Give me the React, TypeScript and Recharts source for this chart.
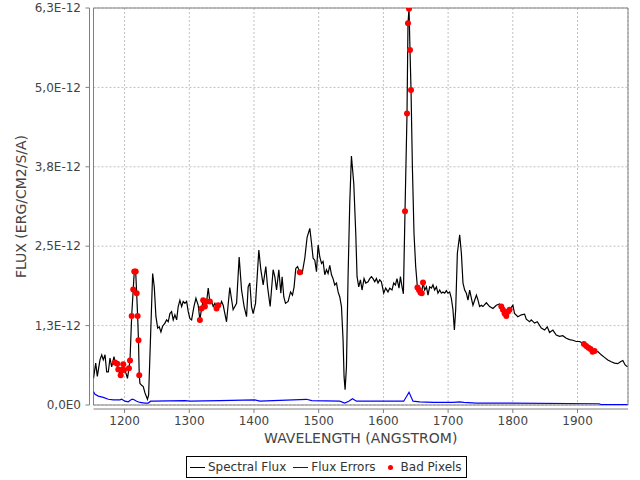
import React from "react";
import {
  ComposedChart,
  Line,
  XAxis,
  YAxis,
  CartesianGrid,
  ReferenceArea,
  Label,
} from "recharts";

// wavelengths in angstrom, flux in units of 1e-12 erg/cm2/s/A
const WAVELENGTH = [
  1152.0, 1155.4, 1157.9, 1162.0, 1164.7, 1167.1, 1169.8, 1172.4, 1174.9, 1177.5,
  1180.1, 1183.7, 1185.2, 1188.7, 1190.3, 1194.0, 1195.5, 1198.0, 1199.1, 1202.2,
  1204.5, 1206.8, 1208.4, 1211.0, 1213.4, 1215.0, 1217.2, 1218.7, 1220.2, 1221.5,
  1222.7, 1223.8, 1226.4, 1228.9, 1231.5, 1235.4, 1237.2, 1240.0, 1243.4, 1245.9,
  1248.5, 1251.2, 1253.6, 1256.2, 1258.8, 1262.4, 1265.0, 1267.5, 1270.1, 1272.7,
  1275.2, 1277.8, 1280.5, 1282.9, 1285.5, 1288.2, 1290.6, 1293.3, 1295.9, 1298.4,
  1301.0, 1303.6, 1307.2, 1310.3, 1313.8, 1316.4, 1319.0, 1321.5, 1324.1, 1326.8,
  1329.3, 1331.8, 1334.5, 1337.0, 1339.6, 1342.2, 1344.7, 1347.3, 1349.9, 1352.4,
  1357.6, 1362.6, 1367.8, 1373.1, 1377.1, 1380.8, 1384.8, 1388.5, 1391.0, 1393.6,
  1396.2, 1398.7, 1402.4, 1407.5, 1410.6, 1414.2, 1418.3, 1421.0, 1425.0, 1429.6,
  1432.2, 1434.9, 1438.4, 1441.5, 1443.5, 1446.1, 1448.7, 1452.8, 1456.5, 1459.5,
  1462.0, 1464.6, 1467.3, 1470.8, 1474.4, 1478.5, 1482.1, 1486.3, 1488.9, 1491.4,
  1494.0, 1496.6, 1499.1, 1501.7, 1504.4, 1506.8, 1509.4, 1512.0, 1514.5, 1517.1,
  1519.8, 1522.2, 1524.8, 1527.5, 1530.0, 1532.6, 1535.2, 1537.7, 1539.2, 1540.8,
  1542.9, 1545.4, 1548.0, 1550.6, 1554.2, 1557.3, 1559.3, 1561.9, 1564.5, 1567.0,
  1570.1, 1572.7, 1576.3, 1578.9, 1581.5, 1584.0, 1586.6, 1589.2, 1591.7, 1594.3,
  1596.9, 1600.5, 1603.5, 1607.1, 1609.8, 1613.3, 1615.9, 1618.6, 1621.0, 1624.1,
  1626.3, 1628.8, 1630.9, 1633.4, 1636.5, 1638.0, 1639.6, 1641.1, 1642.7, 1644.8,
  1647.3, 1649.9, 1652.6, 1655.0, 1657.2, 1659.2, 1661.2, 1663.8, 1666.5, 1668.9,
  1671.5, 1674.2, 1676.6, 1679.2, 1681.9, 1684.3, 1687.0, 1689.6, 1692.1, 1694.7,
  1697.3, 1699.8, 1702.4, 1705.0, 1707.5, 1709.7, 1711.7, 1714.3, 1717.9, 1720.5,
  1723.0, 1725.6, 1728.2, 1730.7, 1733.3, 1736.0, 1738.4, 1741.0, 1743.7, 1746.2,
  1748.7, 1751.4, 1753.8, 1759.1, 1764.2, 1769.3, 1774.5, 1779.6, 1782.2, 1784.7,
  1787.3, 1789.9, 1792.4, 1795.0, 1800.1, 1802.7, 1807.8, 1813.1, 1818.2, 1820.8,
  1825.9, 1828.5, 1833.6, 1837.8, 1844.0, 1849.1, 1853.2, 1856.8, 1861.9, 1867.1,
  1872.2, 1877.3, 1882.6, 1887.7, 1892.8, 1898.0, 1903.1, 1909.8, 1913.4, 1917.0,
  1920.1, 1923.2, 1926.3, 1931.4, 1936.6, 1941.7, 1946.8, 1952.1, 1957.2, 1962.2,
  1966.4, 1970.0, 1973.6, 1977.2,
];

const FLUX = [
  0.42, 0.66, 0.45, 0.71, 0.79, 0.71, 0.79, 0.52, 0.52, 0.74,
  0.60, 0.76, 0.67, 0.65, 0.56, 0.47, 0.55, 0.64, 0.55, 0.50,
  0.42, 0.58, 0.70, 1.40, 1.82, 2.10, 2.10, 1.76, 1.40, 1.02,
  0.47, 0.34, 0.31, 0.29, 0.19, 0.09, 0.16, 1.02, 2.07, 1.86,
  1.39, 1.21, 1.23, 1.15, 1.24, 1.29, 1.34, 1.31, 1.44, 1.47,
  1.34, 1.42, 1.34, 1.55, 1.65, 1.55, 1.63, 1.60, 1.63, 1.47,
  1.36, 1.34, 1.55, 1.68, 1.57, 1.34, 1.52, 1.65, 1.55, 1.63,
  1.84, 1.63, 1.63, 1.55, 1.60, 1.52, 1.57, 1.55, 1.63, 1.57,
  1.31, 1.85, 1.50, 1.60, 2.33, 1.81, 1.55, 1.39, 1.86, 1.92,
  1.55, 1.44, 1.60, 2.44, 2.13, 1.89, 2.18, 1.86, 1.55, 2.13,
  2.02, 1.81, 2.13, 1.76, 2.02, 1.70, 1.60, 1.63, 1.78, 1.73,
  1.86, 2.15, 2.18, 2.09, 2.07, 2.31, 2.64, 2.78, 2.55, 2.31,
  2.28, 2.10, 2.52, 2.33, 2.23, 2.26, 2.05, 2.13, 2.07, 2.20,
  2.05, 1.99, 1.89, 1.92, 1.78, 1.70, 1.55, 1.02, 0.45, 0.24,
  0.60, 2.02, 3.18, 3.92, 3.49, 2.70, 2.02, 1.86, 1.97, 1.81,
  1.99, 1.92, 1.94, 1.99, 2.02, 1.99, 1.94, 1.99, 1.92, 1.97,
  1.94, 1.76, 1.84, 1.78, 1.84, 1.81, 1.92, 1.89, 1.99, 1.84,
  2.02, 1.86, 1.75, 3.05, 4.59, 6.01, 6.24, 5.59, 4.96, 3.75,
  2.70, 2.18, 1.85, 1.81, 1.77, 1.76, 1.93, 1.81, 1.86, 1.73,
  1.86, 1.84, 1.89, 1.81, 1.86, 1.76, 1.81, 1.76, 1.78, 1.76,
  1.80, 1.76, 1.78, 1.68, 1.50, 1.18, 1.50, 2.39, 2.68, 2.39,
  1.92, 1.81, 1.76, 1.65, 1.81, 1.68, 1.57, 1.65, 1.73, 1.65,
  1.55, 1.57, 1.55, 1.61, 1.55, 1.52, 1.57, 1.59, 1.55, 1.50,
  1.44, 1.40, 1.47, 1.50, 1.57, 1.44, 1.39, 1.42, 1.43, 1.35,
  1.31, 1.34, 1.29, 1.31, 1.21, 1.18, 1.23, 1.14, 1.18, 1.10,
  1.08, 1.09, 1.05, 1.03, 1.02, 1.00, 1.00, 0.96, 0.93, 0.90,
  0.88, 0.84, 0.85, 0.84, 0.79, 0.75, 0.71, 0.68, 0.66, 0.65,
  0.68, 0.70, 0.63, 0.60,
];

const ERR_WAVELENGTH = [
  1152.0, 1154.3, 1159.4, 1167.1, 1174.9, 1182.6, 1192.9, 1195.5, 1200.6, 1205.7,
  1211.0, 1213.4, 1218.7, 1223.8, 1231.5, 1236.6, 1240.3, 1244.3, 1293.3, 1301.0,
  1347.3, 1401.3, 1409.1, 1481.2, 1489.3, 1532.6, 1540.2, 1546.5, 1552.2, 1558.4,
  1631.4, 1639.6, 1645.7, 1656.1, 1676.6, 1707.5, 1717.9, 1724.1, 1743.7, 1787.3,
  1795.0, 1933.8, 1936.6, 1977.2,
];

const ERR_FLUX = [
  0.21, 0.17, 0.14, 0.12, 0.09, 0.08, 0.08, 0.09, 0.06, 0.05,
  0.09, 0.09, 0.06, 0.04, 0.03, 0.03, 0.06, 0.06, 0.07, 0.06,
  0.07, 0.08, 0.06, 0.09, 0.07, 0.06, 0.03, 0.06, 0.10, 0.06,
  0.06, 0.20, 0.06, 0.05, 0.04, 0.04, 0.05, 0.04, 0.03, 0.03,
  0.03, 0.02, 0.005, 0.005,
];

const BAD_WAVELENGTH = [
  1185.2, 1188.7, 1190.3, 1194.0, 1195.5, 1198.0, 1199.1, 1206.8, 1208.4, 1211.0,
  1213.4, 1215.0, 1217.2, 1218.7, 1220.2, 1221.5, 1222.7, 1316.4, 1319.0, 1321.5,
  1324.1, 1326.8, 1331.8, 1342.2, 1344.7, 1470.8, 1633.4, 1636.5, 1638.0, 1639.6,
  1641.1, 1642.7, 1652.6, 1655.0, 1657.2, 1659.2, 1661.2, 1782.2, 1784.7, 1787.3,
  1789.9, 1792.4, 1795.0, 1909.8, 1913.4, 1917.0, 1920.1, 1923.2, 1926.3,
];

const BAD_FLUX = [
  0.67, 0.65, 0.56, 0.47, 0.55, 0.64, 0.55, 0.58, 0.70, 1.40,
  1.82, 2.10, 2.10, 1.76, 1.40, 1.02, 0.47, 1.34, 1.52, 1.65,
  1.55, 1.63, 1.63, 1.52, 1.57, 2.09, 3.05, 4.59, 6.01, 6.24,
  5.59, 4.96, 1.85, 1.81, 1.77, 1.76, 1.93, 1.55, 1.50, 1.44,
  1.40, 1.47, 1.50, 0.96, 0.93, 0.90, 0.88, 0.84, 0.85,
];

const X_TICKS = [1200, 1300, 1400, 1500, 1600, 1700, 1800, 1900];
const Y_TICKS = [0, 1.25, 2.5, 3.75, 5, 6.25];

const fluxData = WAVELENGTH.map((wl, i) => ({ wl, flux: FLUX[i] }));
const errData = ERR_WAVELENGTH.map((wl, i) => ({ wl, flux: ERR_FLUX[i] }));
const badData = BAD_WAVELENGTH.map((wl, i) => ({ wl, flux: BAD_FLUX[i] }));

const FONT = "'DejaVu Sans', sans-serif";
const AXIS_GRAY = "#808080";
const TEXT_GRAY = "#444444";

function formatFlux(v: number): string {
  if (v === 0) return "0,0E0";
  return `${v.toFixed(1).replace(".", ",")}E-12`;
}

function YTitle(props: any) {
  const vb = props.viewBox;
  const x = vb.x + 21;
  const y = vb.y + vb.height / 2;
  return (
    <text
      x={x}
      y={y}
      transform={`rotate(-90, ${x}, ${y})`}
      textAnchor="middle"
      dominantBaseline="central"
      fontSize={14}
      fill={TEXT_GRAY}
    >
      FLUX (ERG/CM2/S/A)
    </text>
  );
}

function XTitle(props: any) {
  const vb = props.viewBox;
  return (
    <text
      x={vb.x + vb.width / 2}
      y={vb.y + 33}
      textAnchor="middle"
      dominantBaseline="central"
      fontSize={14}
      fill={TEXT_GRAY}
    >
      WAVELENGTH (ANGSTROM)
    </text>
  );
}

function LegendBox() {
  const item = { display: "flex", alignItems: "center" } as const;
  return (
    <div
      style={{
        position: "absolute",
        left: 186,
        top: 456,
        height: 20,
        border: "1px solid #000",
        background: "#fff",
        display: "flex",
        alignItems: "center",
        padding: "0 4px 0 3px",
        fontSize: 12,
        color: "#333",
        whiteSpace: "nowrap",
      }}
    >
      <div style={item}>
        <span style={{ width: 15, height: 1, background: "#000", marginRight: 3 }} />
        Spectral Flux
      </div>
      <div style={{ ...item, marginLeft: 7 }}>
        <span style={{ width: 15, height: 1, background: "#0000ff", marginRight: 3 }} />
        Flux Errors
      </div>
      <div style={{ ...item, marginLeft: 12 }}>
        <span
          style={{
            width: 5,
            height: 5,
            borderRadius: "50%",
            background: "#ff0000",
            marginRight: 8,
          }}
        />
        Bad Pixels
      </div>
    </div>
  );
}

export default function App() {
  return (
    <div
      style={{
        position: "absolute",
        left: 0,
        top: 0,
        width: 640,
        height: 480,
        background: "#fff",
        fontFamily: FONT,
      }}
    >
      <ComposedChart width={640} height={480} margin={{ top: 8, right: 12, bottom: 0, left: 0 }}>
        <CartesianGrid stroke="#c0c0c0" strokeDasharray="2 2" />
        <ReferenceArea
          x1={1152}
          x2={1978}
          y1={0}
          y2={6.25}
          fill="none"
          stroke={AXIS_GRAY}
          strokeOpacity={1}
          ifOverflow="visible"
        />
        <XAxis
          dataKey="wl"
          type="number"
          domain={[1152, 1978]}
          allowDataOverflow
          ticks={X_TICKS}
          height={75}
          tickSize={4}
          tickMargin={7.5}
          axisLine={{ stroke: AXIS_GRAY, transform: "translate(0,4)" }}
          tickLine={{ stroke: AXIS_GRAY, transform: "translate(0,4)" }}
          tick={{ fill: TEXT_GRAY, fontSize: 12 }}
        >
          <Label content={XTitle} />
        </XAxis>
        <YAxis
          type="number"
          domain={[0, 6.25]}
          allowDataOverflow
          ticks={Y_TICKS}
          width={93.5}
          tickSize={4}
          tickMargin={8.5}
          tickFormatter={formatFlux}
          axisLine={{ stroke: AXIS_GRAY, transform: "translate(-4,0)" }}
          tickLine={{ stroke: AXIS_GRAY, transform: "translate(-4,0)" }}
          tick={{ fill: TEXT_GRAY, fontSize: 12 }}
        >
          <Label content={YTitle} />
        </YAxis>
        <Line
          data={fluxData}
          dataKey="flux"
          type="linear"
          stroke="#000000"
          strokeWidth={1.2}
          dot={false}
          activeDot={false}
          isAnimationActive={false}
        />
        <Line
          data={errData}
          dataKey="flux"
          type="linear"
          stroke="#0000ff"
          strokeWidth={1.2}
          dot={false}
          activeDot={false}
          isAnimationActive={false}
        />
        <Line
          data={badData}
          dataKey="flux"
          type="linear"
          stroke="none"
          dot={{ r: 3, fill: "#ff0000", stroke: "none" }}
          activeDot={false}
          isAnimationActive={false}
        />
      </ComposedChart>
      <LegendBox />
    </div>
  );
}
